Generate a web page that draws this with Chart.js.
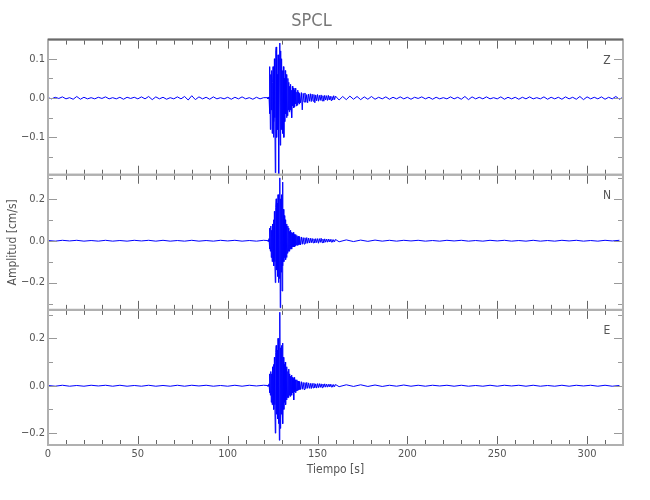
<!DOCTYPE html>
<html>
<head>
<meta charset="utf-8">
<script src="https://cdn.jsdelivr.net/npm/chart.js@4/dist/chart.umd.min.js"></script>
<style>
  html, body { margin: 0; padding: 0; background: #fff; }
</style>
</head>
<body>
<canvas id="chart" width="650" height="500"></canvas>
<script>
// sample segments, [start (s), step (s)] for pre-event noise, burst, coda, post noise
const z_segs = [[0, 2], [122, 0.25], [140.5, 0.5], [162, 2]];
const ne_segs = [[0, 4], [122, 0.25], [140.5, 0.5], [162, 4]];

// Z component (cm/s)
const z_pre = [0.001, -0.002, 0.002, -0.001, 0.003, -0.002, 0.001, -0.003, 0.004, -0.003, 0.002, -0.002, 0.001, -0.002, 0.002, -0.001, 0.003, -0.002, 0.001, -0.002, 0.002, -0.003, 0.002, -0.001, 0.002, -0.002, 0.003, -0.002, 0.004, -0.004, 0.003, -0.002, 0.002, -0.003, 0.001, -0.002, 0.003, -0.002, 0.004, -0.005, 0.006, -0.004, 0.003, -0.002, 0.002, -0.003, 0.003, -0.002, 0.001, -0.002, 0.002, -0.003, 0.002, -0.002, 0.003, -0.002, 0.001, -0.003, 0.002, -0.002, 0.001];
const z_burst = [0.001, -0.002, 0.002, -0.001, 0.003, -0.04, 0.08, -0.08, 0.06, -0.03, 0.07, -0.09, 0.04, 0.08, -0.1, -0.06, 0.1, -0.05, -0.19, 0.12, 0.13, -0.1, 0.06, -0.08, 0.11, -0.14, -0.2, 0.1, 0.14, -0.12, 0.12, -0.08, 0.1, -0.07, 0.07, -0.09, 0.08, -0.1, 0.05, -0.06, 0.07, -0.04, 0.06, -0.05, 0.04, -0.045, 0.05, -0.03, 0.04, -0.035, 0.03, -0.03, 0.035, -0.025, 0.02, -0.05, 0.03, -0.02, 0.025, -0.025, 0.02, -0.022, 0.025, -0.015, 0.02, -0.02, 0.015, -0.018, 0.02, -0.012, 0.015, -0.015, 0.012];
const z_coda = [-0.012, 0.014, -0.03, 0.012, -0.01, 0.013, -0.011, 0.009, -0.012, 0.01, -0.008, 0.011, -0.009, 0.01, -0.008, 0.009, -0.012, 0.008, -0.007, 0.009, -0.008, 0.007, -0.006, 0.008, -0.007, 0.006, -0.008, 0.007, -0.005, 0.006, -0.006, 0.007, -0.005, 0.005, -0.006, 0.004, -0.005, 0.006, -0.004, 0.005];
const z_post = [-0.005, 0.004, -0.004, 0.005, -0.003, 0.004, -0.004, 0.003, -0.003, 0.004, -0.003, 0.002, -0.002, 0.003, -0.003, 0.002, -0.002, 0.003, -0.002, 0.002, -0.003, 0.002, -0.001, 0.003, -0.002, 0.002, -0.003, 0.002, -0.002, 0.001, -0.002, 0.003, -0.002, 0.002, -0.003, 0.004, -0.004, 0.003, -0.002, 0.002, -0.002, 0.003, -0.002, 0.001, -0.002, 0.003, -0.003, 0.002, -0.002, 0.002, -0.003, 0.002, -0.002, 0.003, -0.002, 0.001, -0.002, 0.003, -0.003, 0.002, -0.002, 0.002, -0.003, 0.003, -0.002, 0.002, -0.003, 0.004, -0.004, 0.003, -0.002, 0.002, -0.002, 0.003, -0.003, 0.002, -0.002, 0.004, -0.003, 0.002];

// N component
const n_pre = [0.001, -0.002, 0.002, -0.001, 0.002, -0.002, 0.001, -0.002, 0.002, -0.002, 0.001, -0.002, 0.002, -0.001, 0.002, -0.002, 0.002, -0.002, 0.001, -0.002, 0.002, -0.002, 0.001, -0.002, 0.002, -0.001, 0.002, -0.002, 0.001, -0.002, 0.002];
const n_burst = [0.001, -0.002, 0.002, -0.003, 0.01, -0.04, 0.06, -0.05, 0.07, -0.08, 0.05, -0.1, 0.08, -0.06, 0.1, -0.12, 0.14, -0.1, -0.2, 0.16, 0.2, -0.14, 0.18, -0.17, 0.22, -0.2, 0.19, -0.18, 0.3, -0.32, 0.2, -0.15, 0.22, -0.24, 0.28, -0.12, 0.15, -0.1, 0.12, -0.08, 0.1, -0.09, 0.07, -0.08, 0.08, -0.06, 0.07, -0.05, 0.06, -0.05, 0.045, -0.04, 0.05, -0.035, 0.04, -0.04, 0.035, -0.03, 0.04, -0.03, 0.03, -0.03, 0.025, -0.025, 0.03, -0.02, 0.025, -0.022, 0.02, -0.02, 0.022, -0.018, 0.02];
const n_coda = [-0.02, 0.018, -0.017, 0.015, -0.016, 0.014, -0.013, 0.015, -0.012, 0.013, -0.011, 0.012, -0.01, 0.011, -0.01, 0.009, -0.011, 0.01, -0.009, 0.01, -0.012, 0.01, -0.008, 0.012, -0.009, 0.008, -0.01, 0.009, -0.007, 0.008, -0.007, 0.008, -0.006, 0.007, -0.006, 0.006, -0.007, 0.005, -0.005, 0.006];
const n_post = [-0.005, 0.004, -0.004, 0.003, -0.003, 0.003, -0.002, 0.002, -0.002, 0.002, -0.001, 0.002, -0.002, 0.001, -0.002, 0.002, -0.001, 0.002, -0.002, 0.001, -0.002, 0.002, -0.001, 0.002, -0.002, 0.001, -0.002, 0.002, -0.002, 0.001, -0.002, 0.002, -0.001, 0.002, -0.002, 0.001, -0.002, 0.002, -0.001, 0.002];

// E component
const e_pre = [0.001, -0.002, 0.002, -0.002, 0.001, -0.002, 0.002, -0.001, 0.002, -0.002, 0.002, -0.002, 0.001, -0.002, 0.002, -0.002, 0.001, -0.002, 0.002, -0.002, 0.002, -0.001, 0.002, -0.002, 0.001, -0.002, 0.002, -0.002, 0.002, -0.001, 0.002];
const e_burst = [0.001, -0.002, 0.002, -0.002, 0.008, -0.03, 0.05, -0.04, 0.06, -0.07, 0.05, -0.08, 0.08, -0.05, 0.09, -0.1, 0.12, -0.08, -0.2, 0.14, 0.17, -0.12, 0.15, -0.14, 0.2, -0.16, 0.12, -0.23, 0.31, -0.18, 0.16, -0.12, 0.17, -0.1, 0.18, -0.16, 0.12, -0.1, 0.09, -0.07, 0.1, -0.08, 0.07, -0.06, 0.08, -0.05, 0.06, -0.05, 0.07, -0.04, 0.05, -0.045, 0.04, -0.035, 0.045, -0.04, 0.035, -0.03, 0.03, -0.06, 0.035, -0.025, 0.025, -0.03, 0.02, -0.022, 0.025, -0.02, 0.02, -0.018, 0.02, -0.016, 0.018];
const e_coda = [-0.016, 0.017, -0.015, 0.014, -0.016, 0.013, -0.012, 0.014, -0.011, 0.012, -0.011, 0.01, -0.012, 0.01, -0.009, 0.01, -0.009, 0.008, -0.01, 0.009, -0.008, 0.009, -0.007, 0.008, -0.008, 0.007, -0.006, 0.008, -0.006, 0.007, -0.006, 0.006, -0.005, 0.007, -0.005, 0.005, -0.006, 0.005, -0.004, 0.005];
const e_post = [-0.004, 0.004, -0.003, 0.004, -0.003, 0.003, -0.003, 0.002, -0.002, 0.003, -0.002, 0.002, -0.002, 0.002, -0.001, 0.002, -0.002, 0.002, -0.002, 0.001, -0.002, 0.002, -0.002, 0.002, -0.001, 0.002, -0.002, 0.002, -0.002, 0.001, -0.002, 0.002, -0.002, 0.002, -0.001, 0.002, -0.002, 0.002, -0.002, 0.001];

// axes
const x_ticks = [0, 50, 100, 150, 200, 250, 300];
const x_range = [0, 320];
const z_ticks = [-0.1, 0.0, 0.1];
const n_ticks = [-0.2, 0.0, 0.2];
const e_ticks = [-0.2, 0.0, 0.2];
const z_range = [-0.195, 0.1487];
const n_range = [-0.33, 0.315];
const e_range = [-0.25, 0.32];

const font_family = "'DejaVu Sans Condensed', 'Liberation Sans Narrow', sans-serif";

function build_series(segs, parts) {
  const pts = [];
  parts.forEach((vals, k) => {
    const [t0, dt] = segs[k];
    vals.forEach((v, i) => pts.push({ x: t0 + i * dt, y: v }));
  });
  return pts;
}

const panels = [
  { id: "yZ", label: "Z", ticks: z_ticks, range: z_range, minor: 0.05, data: build_series(z_segs, [z_pre, z_burst, z_coda, z_post]) },
  { id: "yN", label: "N", ticks: n_ticks, range: n_range, minor: 0.1, data: build_series(ne_segs, [n_pre, n_burst, n_coda, n_post]) },
  { id: "yE", label: "E", ticks: e_ticks, range: e_range, minor: 0.1, data: build_series(ne_segs, [e_pre, e_burst, e_coda, e_post]) },
];

function fmt(v) {
  return v.toFixed(1).replace("-", "\u2212");
}

function y_scale(p, with_title) {
  return {
    type: "linear",
    position: "left",
    stack: "panels",
    stackWeight: 1,
    min: p.range[0],
    max: p.range[1],
    grid: { display: false, drawTicks: false },
    border: { display: false },
    afterBuildTicks: (scale) => { scale.ticks = p.ticks.map((value) => ({ value })); },
    afterFit: (scale) => { scale.width = 48; },
    ticks: { color: "#555", padding: 3, font: { size: 11 }, callback: (v) => fmt(v) },
    title: {
      display: with_title,
      text: "Amplitud [cm/s]",
      color: "#555",
      font: { size: 12 },
      padding: { top: 6, bottom: 0 },
    },
  };
}

// frames, inward tick marks and component letters
const frame_plugin = {
  id: "frame_plugin",
  afterDatasetsDraw(chart) {
    const { ctx, chartArea, scales } = chart;
    const xs = scales.x;
    const left = chartArea.left, right = chartArea.right;
    ctx.save();
    ctx.lineWidth = 1;
    panels.forEach((p, k) => {
      const ys = scales[p.id];
      const top = ys.top, bottom = ys.bottom;

      ctx.strokeStyle = "#666";
      for (let v = x_range[0]; v <= x_range[1]; v += 10) {
        const px = Math.round(xs.getPixelForValue(v)) + 0.5;
        const len = v % 50 === 0 ? 9 : 5;
        ctx.beginPath();
        ctx.moveTo(px, top); ctx.lineTo(px, top + len);
        ctx.moveTo(px, bottom); ctx.lineTo(px, bottom - len);
        ctx.stroke();
      }

      ctx.strokeStyle = "#999";
      const first = Math.ceil(p.range[0] / p.minor - 1e-9);
      for (let i = first; i * p.minor <= p.range[1] + 1e-9; i++) {
        const v = i * p.minor;
        const major = p.ticks.some((t) => Math.abs(t - v) < 1e-6);
        const len = major ? 9 : 5;
        const py = Math.round(ys.getPixelForValue(v)) + 0.5;
        ctx.beginPath();
        ctx.moveTo(left, py); ctx.lineTo(left + len, py);
        ctx.moveTo(right, py); ctx.lineTo(right - len, py);
        ctx.stroke();
      }

      ctx.strokeStyle = "#b0b0b0";
      ctx.lineWidth = 2;
      ctx.strokeRect(left, top, right - left, bottom - top);
      if (k === 0) {
        ctx.strokeStyle = "#6a6a6a";
        ctx.beginPath();
        ctx.moveTo(left, top); ctx.lineTo(right, top);
        ctx.stroke();
      }
      ctx.lineWidth = 1;

      ctx.fillStyle = "#555";
      ctx.font = "12px " + font_family;
      ctx.textAlign = "center";
      ctx.textBaseline = "middle";
      ctx.fillText(p.label, right - 16, top + 21);
    });
    ctx.restore();
  },
};

Chart.defaults.font.family = font_family;

new Chart(document.getElementById("chart"), {
  type: "scatter",
  data: {
    datasets: panels.map((p) => ({
      label: p.label,
      data: p.data,
      yAxisID: p.id,
      showLine: true,
      pointRadius: 0,
      borderColor: "#0000ff",
      borderWidth: 1,
    })),
  },
  options: {
    responsive: false,
    animation: false,
    devicePixelRatio: 1,
    layout: { padding: { left: 0, right: 27, top: 0, bottom: 20 } },
    plugins: {
      legend: { display: false },
      tooltip: { enabled: false },
      title: {
        display: true,
        text: "SPCL",
        color: "#777",
        font: { size: 18, weight: "normal" },
        padding: { top: 11, bottom: 7 },
      },
    },
    scales: {
      x: {
        type: "linear",
        min: x_range[0],
        max: x_range[1],
        grid: { display: false, drawTicks: false },
        border: { display: false },
        afterBuildTicks: (scale) => { scale.ticks = x_ticks.map((value) => ({ value })); },
        afterFit: (scale) => { scale.height = 35; },
        ticks: { color: "#555", padding: 3, font: { size: 11 }, maxRotation: 0 },
        title: {
          display: true,
          text: "Tiempo [s]",
          color: "#555",
          font: { size: 12 },
          padding: { top: 0, bottom: 3 },
        },
      },
      yE: y_scale(panels[2], false),
      yN: y_scale(panels[1], true),
      yZ: y_scale(panels[0], false),
    },
  },
  plugins: [frame_plugin],
});
</script>
</body>
</html>
